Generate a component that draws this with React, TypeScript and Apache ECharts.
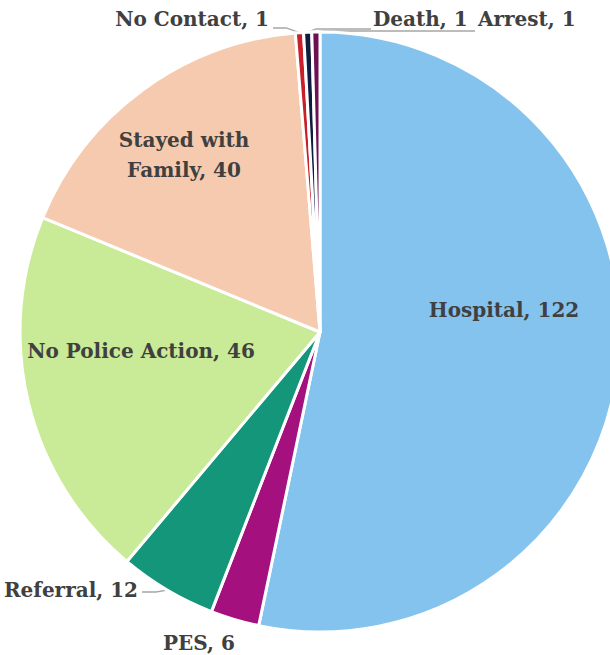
import React, { useEffect, useRef } from "react";
import * as echarts from "echarts";

const categories = ["Hospital", "PES", "Referral", "No Police Action", "Stayed with Family", "No Contact", "Death", "Arrest"];
const values = [122, 6, 12, 46, 40, 1, 1, 1];
const colors = ["#85C3EF", "#A4107E", "#14967A", "#C9EA96", "#F6CAAF", "#C8202A", "#0E1D3F", "#6E1152"];

// label anchor placement (layout only)
const labelPlace: Record<number, { x: number; y: number; align: string; elbow?: [number, number]; end?: [number, number] }> = {
  0: { x: 504, y: 310, align: "center" },
  1: { x: 199, y: 643, align: "center" },
  2: { x: 138, y: 590, align: "right", elbow: [156, 592], end: [142, 592] },
  3: { x: 141, y: 351, align: "center" },
  4: { x: 184, y: 155, align: "center" },
  5: { x: 269, y: 19, align: "right", elbow: [286, 28], end: [273, 28] },
  6: { x: 373, y: 19, align: "left", elbow: [316, 29], end: [371, 29] },
  7: { x: 478, y: 19, align: "left", elbow: [323, 31], end: [475, 31] },
};

export default function App() {
  const ref = useRef<HTMLDivElement>(null);
  useEffect(() => {
    if (!ref.current) return;
    const chart = echarts.init(ref.current, null, { renderer: "svg" });
    const font = "'DejaVu Serif', 'Liberation Serif', serif";
    const inside = new Set([0, 3, 4]);
    chart.setOption({
      animation: false,
      backgroundColor: "#ffffff",
      series: [
        {
          type: "pie",
          center: [320, 332],
          radius: [0, 300],
          startAngle: 90,
          clockwise: true,
          avoidLabelOverlap: false,
          itemStyle: { borderColor: "#ffffff", borderWidth: 3 },
          label: {
            show: true,
            fontFamily: font,
            fontWeight: "bold",
            fontSize: 20,
            lineHeight: 30,
            color: "#404040",
            formatter: (p: any) =>
              p.name === "Stayed with Family" ? "Stayed with\nFamily, " + p.value : p.name + ", " + p.value,
          },
          labelLine: { show: true, length: 8, length2: 10, lineStyle: { color: "#A6A6A6", width: 1.3 } },
          labelLayout: (params: any) => {
            const lp = labelPlace[params.dataIndex];
            const out: any = { x: lp.x, y: lp.y, align: lp.align, verticalAlign: "middle" };
            if (lp.elbow && params.labelLinePoints) {
              const s = params.labelLinePoints[0];
              out.labelLinePoints = [s, lp.elbow, lp.end];
            }
            return out;
          },
          data: categories.map((name, i) => ({
            name,
            value: values[i],
            itemStyle: { color: colors[i] },
            label: { position: inside.has(i) ? "inside" : "outside" },
            labelLine: { show: !!labelPlace[i].elbow },
          })),
        },
      ],
    });
    return () => chart.dispose();
  }, []);
  return <div ref={ref} style={{ position: "absolute", left: 0, top: 0, width: 610, height: 655 }} />;
}
